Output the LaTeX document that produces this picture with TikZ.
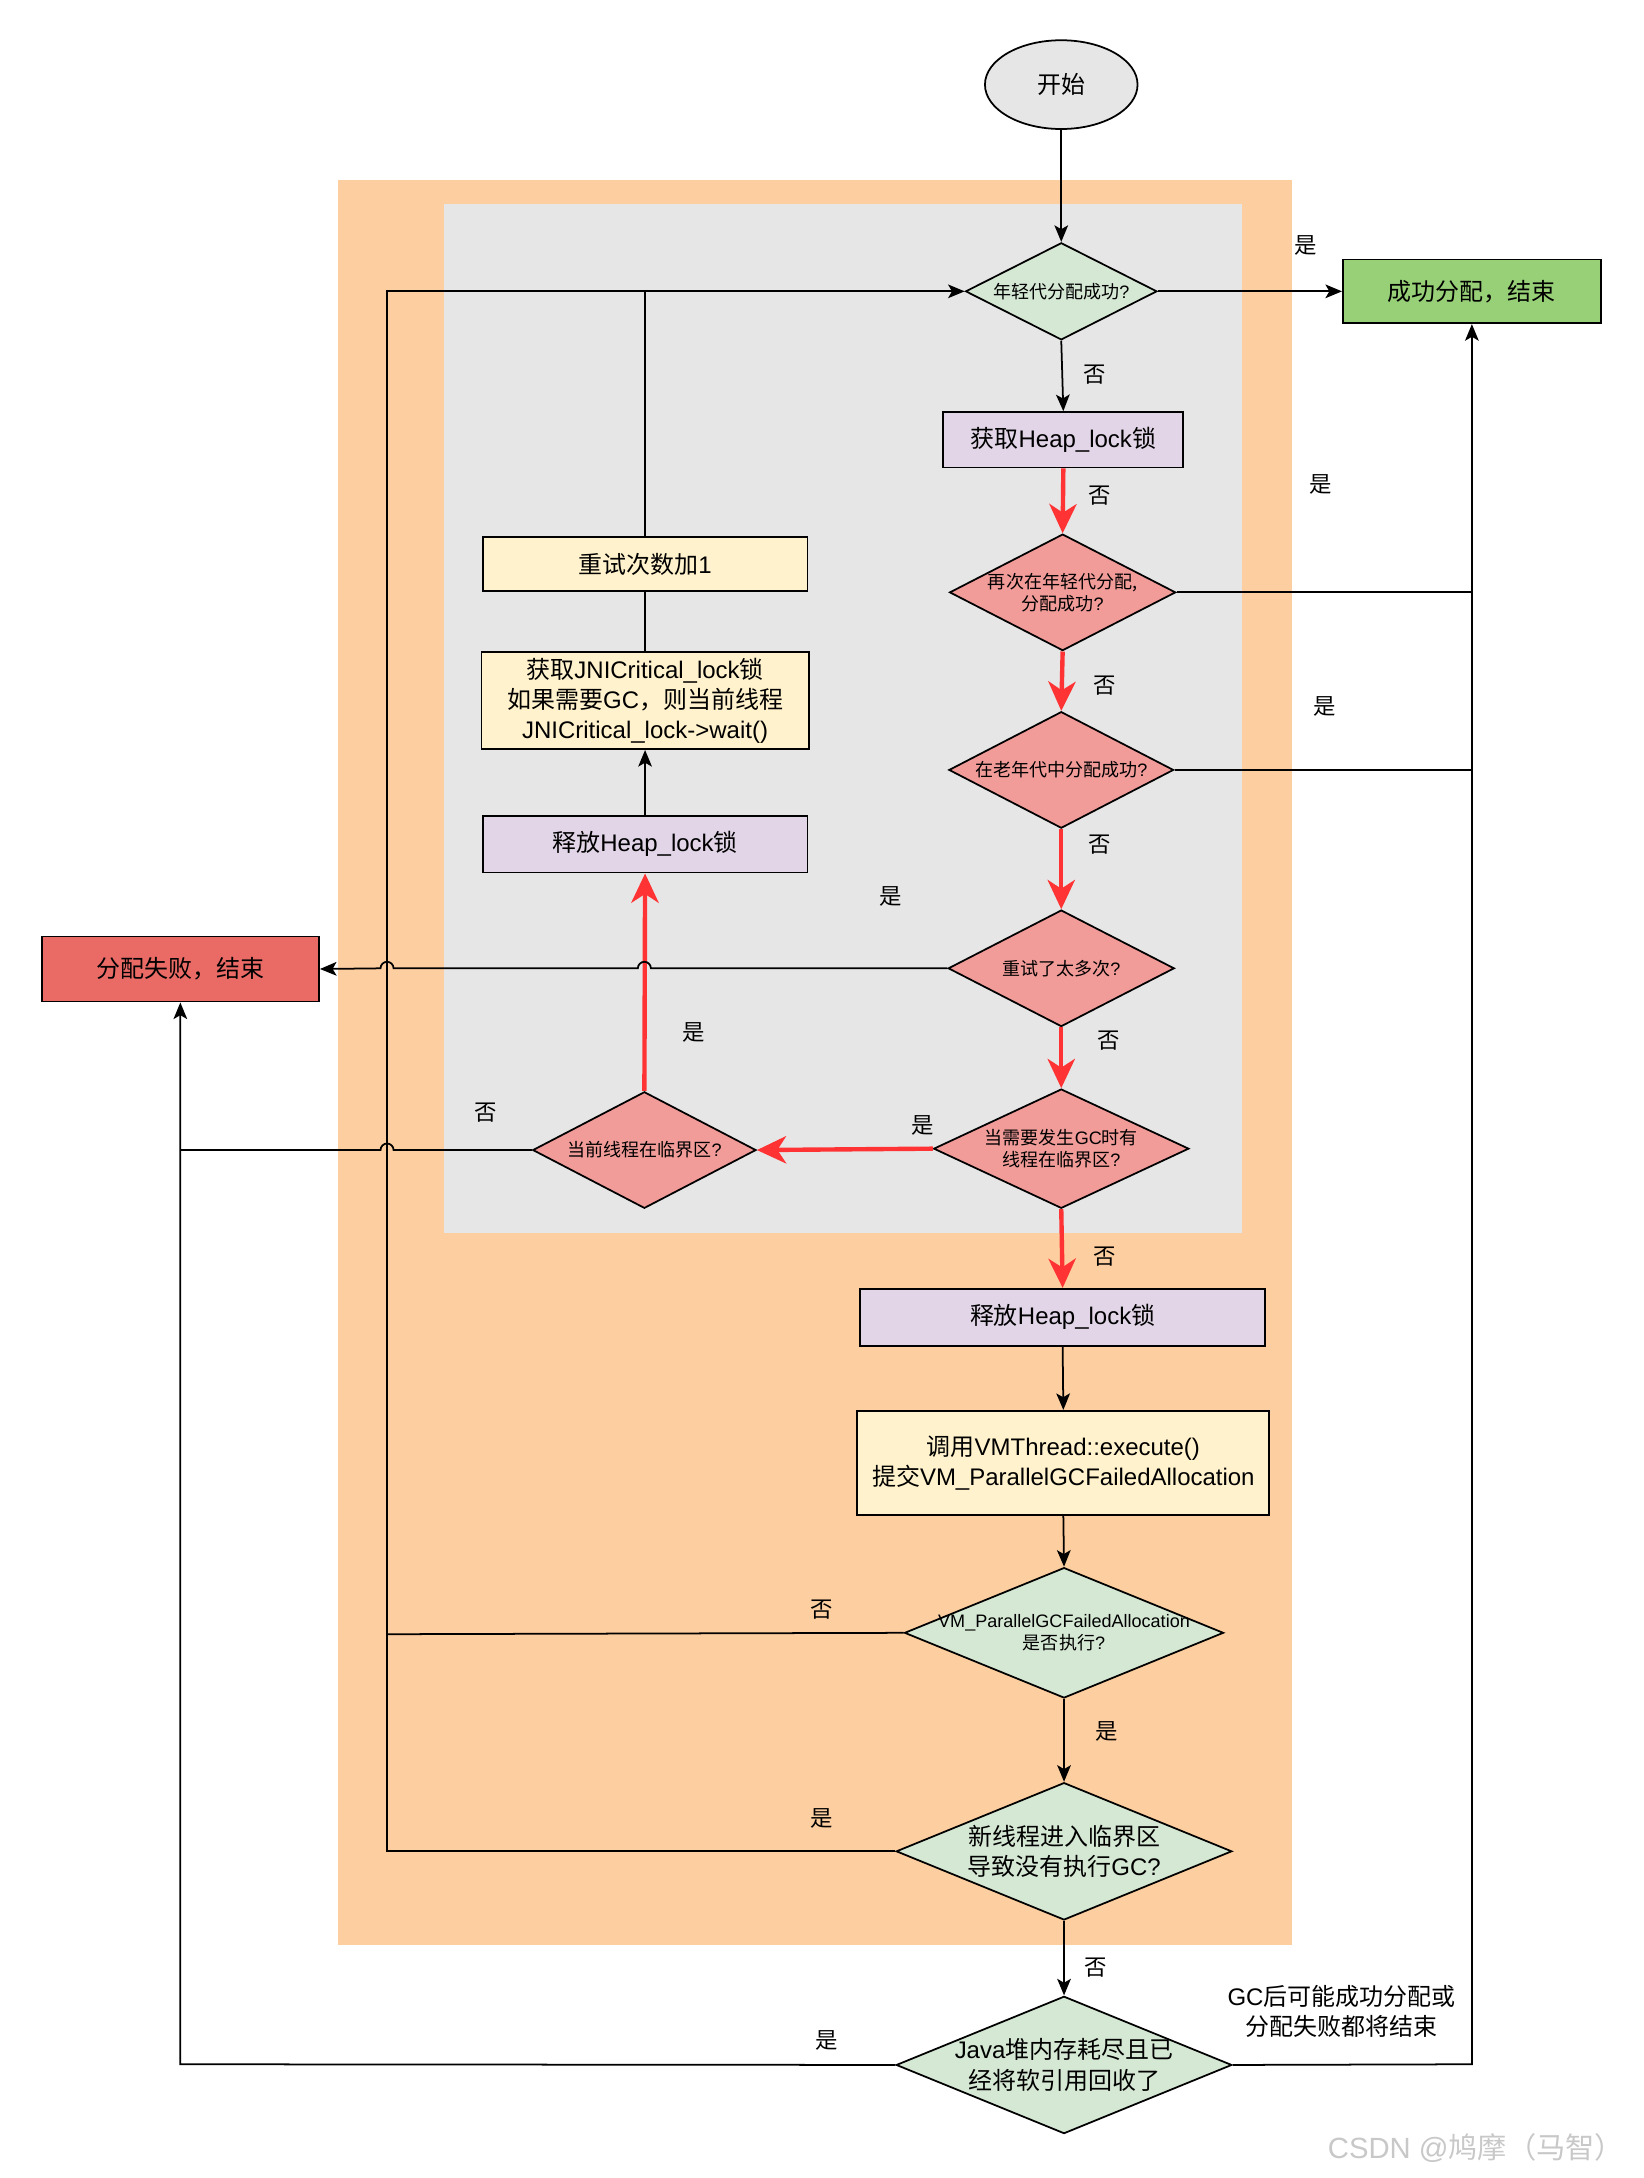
\documentclass[tikz,border=0pt]{standalone}
\usepackage{fontspec}
\setmainfont{Liberation Sans}
\newfontfamily\cjkfont{Noto Sans CJK SC}
\newcommand\ZH[1]{{\cjkfont #1}}
\newcommand\fbig{\fontsize{24.6}{31}\selectfont}
\newcommand\fsmall{\fontsize{18.5}{22.5}\selectfont}
\newcommand\flbl{\fontsize{23}{28}\selectfont}
\newcommand\fwm{\fontsize{30}{36}\selectfont}
\usetikzlibrary{shapes.geometric,arrows.meta}
\definecolor{bgorange}{RGB}{253,206,159}
\definecolor{bggray}{RGB}{230,230,230}
\definecolor{dgreen}{RGB}{213,232,212}
\definecolor{dred}{RGB}{241,156,153}
\definecolor{bpurple}{RGB}{225,213,231}
\definecolor{byellow}{RGB}{255,242,204}
\definecolor{bgreen}{RGB}{151,208,119}
\definecolor{bred}{RGB}{234,107,102}
\definecolor{redline}{RGB}{255,51,51}
\definecolor{wmgray}{RGB}{200,200,200}
\tikzset{
  box/.style={draw=black,line width=1.8pt,inner sep=0pt,align=center,font=\fbig},
  dia/.style={diamond,draw=black,line width=1.8pt,inner sep=0pt},
  dtext/.style={align=center,font=\fsmall,inner sep=0pt},
  dtextbig/.style={align=center,font=\fbig,inner sep=0pt},
  lbl/.style={font=\flbl,inner sep=0pt},
  conn/.style={draw=black,line width=1.8pt},
  arr/.style={conn,-{Stealth[length=17pt,width=14pt,inset=4pt]}},
  redarr/.style={draw=redline,line width=4.5pt,-{Stealth[length=30pt,width=28pt,inset=9pt]}},
}
\begin{document}
\begin{tikzpicture}[x=0.05cm,y=-0.05cm]
\useasboundingbox (0,0) rectangle (1185,1570);
% containers
\fill[bgorange] (244,130) rectangle (931,1402);
\fill[bggray] (320,147) rectangle (895,889);

% nodes
\node[ellipse,draw=black,line width=1.8pt,fill=bggray,minimum width=5.5cm,minimum height=3.2cm,inner sep=0pt,font=\fbig] (start) at (765,61) {\ZH{开始}};
\node[dia,fill=dgreen,minimum width=6.9cm,minimum height=3.5cm] (d1) at (765,210) {};
\node[dtext] (d1t) at (d1) {\ZH{年轻代分配成功}?};
\node[box,fill=bgreen,minimum width=9.3cm,minimum height=2.3cm] (ok) at (1061,210) {\ZH{成功分配，结束}};
\node[box,fill=bpurple,minimum width=8.65cm,minimum height=2.0cm] (lock1) at (766.5,317) {\ZH{获取}Heap\_lock\ZH{锁}};
\node[dia,fill=dred,minimum width=8.15cm,minimum height=4.2cm] (d2) at (766,427) {};
\node[dtext] (d2t) at (d2) {\ZH{再次在年轻代分配,}\\\ZH{分配成功}?};
\node[dia,fill=dred,minimum width=8.1cm,minimum height=4.2cm] (d3) at (765,555) {};
\node[dtext] (d3t) at (d3) {\ZH{在老年代中分配成功}?};
\node[dia,fill=dred,minimum width=8.15cm,minimum height=4.2cm] (d4) at (765,698) {};
\node[dtext] (d4t) at (d4) {\ZH{重试了太多次}?};
\node[dia,fill=dred,minimum width=9.2cm,minimum height=4.3cm] (d5) at (765,828) {};
\node[dtext] (d5t) at (d5) {\ZH{当需要发生}GC\ZH{时有}\\\ZH{线程在临界区}?};
\node[dia,fill=dred,minimum width=8.05cm,minimum height=4.2cm] (d6) at (464.5,829) {};
\node[dtext] (d6t) at (d6) {\ZH{当前线程在临界区}?};
\node[box,fill=bred,minimum width=10cm,minimum height=2.35cm] (fail) at (130,698.5) {\ZH{分配失败，结束}};
\node[box,fill=bpurple,minimum width=11.7cm,minimum height=2.05cm] (rel1) at (465,608.5) {\ZH{释放}Heap\_lock\ZH{锁}};
\node[box,fill=byellow,minimum width=11.8cm,minimum height=3.5cm] (jni) at (465,505) {\ZH{获取}JNICritical\_lock\ZH{锁}\\\ZH{如果需要}GC\ZH{，则当前线程}\\JNICritical\_lock->wait()};
\node[box,fill=byellow,minimum width=11.7cm,minimum height=1.95cm] (retry) at (465,406.5) {\ZH{重试次数加}1};
\node[box,fill=bpurple,minimum width=14.6cm,minimum height=2.05cm] (rel2) at (766,949.5) {\ZH{释放}Heap\_lock\ZH{锁}};
\node[box,fill=byellow,minimum width=14.85cm,minimum height=3.75cm] (vm) at (766.5,1054.5) {\ZH{调用}VMThread::execute()\\\ZH{提交}VM\_ParallelGCFailedAllocation};
\node[dia,fill=dgreen,minimum width=11.5cm,minimum height=4.7cm] (d7) at (767,1177) {};
\node[dtext] (d7t) at (d7) {VM\_ParallelGCFailedAllocation\\\ZH{是否执行}?};
\node[dia,fill=dgreen,minimum width=12.1cm,minimum height=4.95cm] (d8) at (767,1334.5) {};
\node[dtextbig] (d8t) at (d8) {\ZH{新线程进入临界区}\\\ZH{导致没有执行}GC?};
\node[dia,fill=dgreen,minimum width=12.1cm,minimum height=4.95cm] (d9) at (767,1488.5) {};
\node[dtextbig] (d9t) at (d9) {Java\ZH{堆内存耗尽且已}\\\ZH{经将软引用回收了}};
\node[dtextbig] (note) at (967,1450) {GC\ZH{后可能成功分配或}\\\ZH{分配失败都将结束}};
\node[font=\fwm,text=wmgray,inner sep=0pt] (wm) at (1064,1548) {CSDN @\ZH{鸠摩（马智）}};

% coordinates
\coordinate (jy) at (465,210);
\coordinate (lx) at (279,210);
\coordinate (r1) at (1061,427);
\coordinate (r2) at (1061,555);
\coordinate (r3) at (1061,1488);
\coordinate (f1) at (130,829);
\coordinate (f2) at (130,1488);

% black connectors
\draw[arr] (start.south) -- (d1.north);
\draw[arr] (d1.east) -- (ok.west);
\draw[arr] (d1.south) -- (lock1.north);
\draw[arr] (rel1.north) -- (jni.south);
\draw[conn] (jni.north) -- (retry.south);
\draw[conn] (retry.north) -- (jy);
\draw[conn] (d7.west) -- (279,1178);
\draw[arr] (d8.west) -- (279,1334.5) -- (lx) -- (d1.west);
\draw[arr] (rel2.south) -- (vm.north);
\draw[arr] (vm.south) -- (d7.north);
\draw[arr] (d7.south) -- (d8.north);
\draw[arr] (d8.south) -- (d9.north);
\draw[conn] (d2.east) -- (r1);
\draw[conn] (d3.east) -- (r2);
\draw[arr] (d9.east) -- (r3) -- (ok.south);
\draw[arr] (d9.west) -- (f2) -- (fail.south);

% red connectors
\draw[redarr] (lock1.south) -- (d2.north);
\draw[redarr] (d2.south) -- (d3.north);
\draw[redarr] (d3.south) -- (d4.north);
\draw[redarr] (d4.south) -- (d5.north);
\draw[redarr] (d5.west) -- (d6.east);
\draw[redarr] (d5.south) -- (rel2.north);
\draw[redarr] (d6.north) -- (rel1.south);

% connectors with line hops
\draw[arr] (d4.west) -- (469.2,698) arc[start angle=0,end angle=180,radius=0.235cm] -- (283.7,698) arc[start angle=0,end angle=180,radius=0.235cm] -- (fail.east);
\draw[conn] (d6.west) -- (283.7,829) arc[start angle=0,end angle=180,radius=0.235cm] -- (f1);

% labels
\node[lbl] (l1) at (941,177) {\ZH{是}};
\node[lbl] (l2) at (789,270) {\ZH{否}};
\node[lbl] (l3) at (793,357) {\ZH{否}};
\node[lbl] (l4) at (952,349) {\ZH{是}};
\node[lbl] (l5) at (796,494) {\ZH{否}};
\node[lbl] (l6) at (955,509) {\ZH{是}};
\node[lbl] (l7) at (793,609) {\ZH{否}};
\node[lbl] (l8) at (642,646) {\ZH{是}};
\node[lbl] (l9) at (799,750) {\ZH{否}};
\node[lbl] (l10) at (665,811) {\ZH{是}};
\node[lbl] (l11) at (500,744) {\ZH{是}};
\node[lbl] (l12) at (350,802) {\ZH{否}};
\node[lbl] (l13) at (796,906) {\ZH{否}};
\node[lbl] (l14) at (592,1160) {\ZH{否}};
\node[lbl] (l15) at (798,1248) {\ZH{是}};
\node[lbl] (l16) at (592,1311) {\ZH{是}};
\node[lbl] (l17) at (790,1418) {\ZH{否}};
\node[lbl] (l18) at (596,1471) {\ZH{是}};
\end{tikzpicture}
\end{document}
